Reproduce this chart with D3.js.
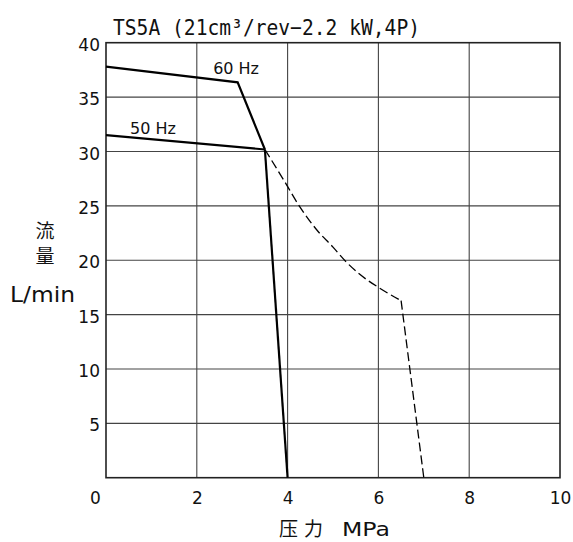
<!DOCTYPE html>
<html>
<head>
<meta charset="utf-8">
<script src="https://cdn.jsdelivr.net/npm/d3@7"></script>
<style>
  html, body { margin: 0; padding: 0; background: #fff; }
  svg { display: block; }
  text { fill: #111; }
</style>
</head>
<body>
<svg id="chart" width="573" height="542"></svg>
<script>
// ---- data ----
const xTicks = [0, 2, 4, 6, 8, 10];
const yTicks = [5, 10, 15, 20, 25, 30, 35, 40];
const line60 = [[0, 37.8], [2.90, 36.36], [3.50, 30.18]];
const line50 = [[0, 31.5], [3.50, 30.18]];
const solidDrop = [[3.50, 30.18], [4.0, 0]];
const dashedCurve = [[3.50, 30.18], [3.91, 27.4], [4.27, 24.9], [4.64, 22.8], [5.0, 21.2],
                     [5.30, 19.8], [5.59, 18.7], [6.0, 17.5], [6.50, 16.28]];
const dashedDrop = [[6.50, 16.28], [7.0, 0]];
const seriesLabels = [{text: "60 Hz", x: 2.36, y: 37.1}, {text: "50 Hz", x: 0.53, y: 31.6}];
const titleText = "TS5A (21cm³/rev−2.2 kW,4P)";
const xTitleParts = ["压", "力", "MPa"];
const yTitle = ["流", "量", "L/min"];

// ---- layout ----
const svg = d3.select("#chart");
const pLeft = 106, pRight = 560, pTop = 42.7, pBottom = 477.7;
const x = d3.scaleLinear().domain([0, 10]).range([pLeft, pRight]);
const y = d3.scaleLinear().domain([0, 40]).range([pBottom, pTop]);
const font = "'DejaVu Sans', 'Noto Sans CJK JP', sans-serif";
const mono = "'DejaVu Sans Mono', 'Liberation Mono', monospace";
const cjk = "'Noto Sans CJK JP', 'Noto Sans CJK SC', sans-serif";

// grid
const g = svg.append("g");
g.selectAll("line.vx").data(xTicks.slice(1, -1)).join("line")
  .attr("x1", d => x(d)).attr("x2", d => x(d)).attr("y1", pTop).attr("y2", pBottom)
  .attr("stroke", "#444").attr("stroke-width", 1.1);
g.selectAll("line.hy").data(yTicks.slice(0, -1)).join("line")
  .attr("x1", pLeft).attr("x2", pRight).attr("y1", d => y(d)).attr("y2", d => y(d))
  .attr("stroke", "#444").attr("stroke-width", 1.1);
g.append("rect").attr("x", pLeft).attr("y", pTop).attr("width", pRight - pLeft).attr("height", pBottom - pTop)
  .attr("fill", "none").attr("stroke", "#222").attr("stroke-width", 1.6);

// axes labels via d3 axes (no domain/ticks lines)
const yAxis = svg.append("g").attr("transform", `translate(${pLeft},0)`)
  .call(d3.axisLeft(y).tickValues(yTicks).tickSize(0).tickPadding(6));
yAxis.select(".domain").remove();
yAxis.selectAll("text").attr("font-family", font).attr("font-size", 17).attr("dy", "0.45em").attr("fill", "#111");

const xAxis = svg.append("g").attr("transform", `translate(0,${pBottom})`)
  .call(d3.axisBottom(x).tickValues(xTicks).tickSize(0).tickPadding(14));
xAxis.select(".domain").remove();
xAxis.selectAll("text").attr("font-family", font).attr("font-size", 17).attr("fill", "#111")
  .attr("dx", d => d === 0 ? -11 : 0);

// lines
const line = d3.line().x(d => x(d[0])).y(d => y(d[1]));
const curve = d3.line().x(d => x(d[0])).y(d => y(d[1])).curve(d3.curveMonotoneX);
[line60, line50, solidDrop].forEach(data => {
  svg.append("path").attr("d", line(data)).attr("fill", "none")
    .attr("stroke", "#000").attr("stroke-width", 2.2).attr("stroke-linejoin", "miter");
});
svg.append("path").attr("d", curve(dashedCurve)).attr("fill", "none")
  .attr("stroke", "#000").attr("stroke-width", 1.3).attr("stroke-dasharray", "9,4");
svg.append("path").attr("d", line(dashedDrop)).attr("fill", "none")
  .attr("stroke", "#000").attr("stroke-width", 1.3).attr("stroke-dasharray", "9,4");

// series labels
svg.selectAll("text.sl").data(seriesLabels).join("text")
  .attr("x", d => x(d.x)).attr("y", d => y(d.y))
  .attr("font-family", font).attr("font-size", 16).text(d => d.text);

// title
svg.append("text").attr("x", 113).attr("y", 35)
  .attr("font-family", mono).attr("font-size", 22)
  .attr("textLength", 307).attr("lengthAdjust", "spacingAndGlyphs").text(titleText);

// x title
svg.append("text").attr("x", 279).attr("y", 536).attr("font-family", cjk).attr("font-size", 19).text(xTitleParts[0]);
svg.append("text").attr("x", 304).attr("y", 536).attr("font-family", cjk).attr("font-size", 19).text(xTitleParts[1]);
svg.append("text").attr("x", 342).attr("y", 536).attr("font-family", font).attr("font-size", 20)
  .attr("textLength", 48).attr("lengthAdjust", "spacingAndGlyphs").text(xTitleParts[2]);

// y title (stacked characters in one text element)
const yt = svg.append("text").attr("text-anchor", "middle")
  .attr("font-family", cjk).attr("font-size", 19);
yt.append("tspan").attr("x", 45).attr("y", 238).text(yTitle[0]);
yt.append("tspan").attr("x", 45).attr("y", 263).text(yTitle[1]);
svg.append("text").attr("x", 10).attr("y", 302)
  .attr("font-family", font).attr("font-size", 22)
  .attr("textLength", 65).attr("lengthAdjust", "spacingAndGlyphs").text(yTitle[2]);
</script>
</body>
</html>
